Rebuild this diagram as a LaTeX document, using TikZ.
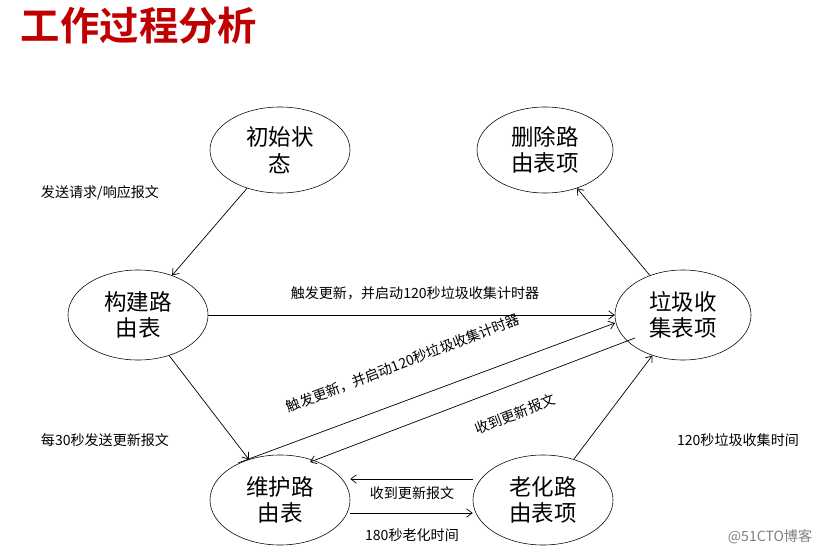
\documentclass[tikz,border=0pt]{standalone}
\usepackage{fontspec}
\setmainfont{Noto Sans CJK SC}
\newfontfamily\titlefont{Noto Sans CJK SC Bold}
\usetikzlibrary{shapes.geometric,arrows.meta}
\definecolor{titlered}{RGB}{192,0,0}
\begin{document}
\begin{tikzpicture}[x=0.025cm, y=-0.025cm,
  state/.style={ellipse, draw, minimum width=3.5cm, minimum height=2.15cm, align=center, font=\fontsize{16}{19}\selectfont, inner sep=0pt},
  flow/.style={draw, -{Straight Barb[length=4pt,width=6pt]}, line width=0.5pt},
  lbl/.style={font=\fontsize{10}{12}\selectfont}]
\useasboundingbox (0,0) rectangle (818,552);

%% title
\node[anchor=west, text=titlered, font=\titlefont\fontsize{28}{30}\selectfont] (title) at (16,26) {工作过程分析};

%% states
\node[state] (init) at (280,150) {初始状\\态};
\node[state, minimum width=3.4cm] (del) at (545,150) {删除路\\由表项};
\node[state, minimum height=2.25cm] (build) at (138,315) {构建路\\由表};
\node[state, minimum width=3.4cm, minimum height=2.25cm] (gc) at (683,315) {垃圾收\\集表项};
\node[state, minimum height=2.25cm] (keep) at (280,500) {维护路\\由表};
\node[state, minimum height=2.25cm] (age) at (543,500) {老化路\\由表项};

%% transitions
\draw[flow] (init) -- (build);
\node[lbl] (l1) at (100,193) {发送请求/响应报文};
\draw[flow] (build.east) -- (gc.west);
\node[lbl] (l2) at (415,293) {触发更新，并启动120秒垃圾收集计时器};
\draw[flow] (gc) -- (del);
\draw[flow] (build) -- (keep);
\node[lbl] (l3) at (105,440) {每30秒发送更新报文};
\draw[flow] (238,463) coordinate (k1) -- (615,323) coordinate (g1);
\node[lbl, rotate=21] (l4) at (403,363) {触发更新，并启动120秒垃圾收集计时器};
\draw[flow] (635,338) coordinate (g2) -- (310,462) coordinate (k2);
\node[lbl, rotate=21] (l5) at (515,414) {收到更新报文};
\draw[flow] (age.west |- 0,479) -- (keep.east |- 0,479);
\node[lbl] (l6) at (412,493) {收到更新报文};
\draw[flow] (keep.east |- 0,513) -- (age.west |- 0,513);
\node[lbl] (l7) at (412,535) {180秒老化时间};
\draw[flow] (age) -- (gc);
\node[lbl] (l8) at (738,440) {120秒垃圾收集时间};

%% watermark
\node[lbl, text=gray] (mark) at (770,537) {@51CTO博客};
\end{tikzpicture}
\end{document}
